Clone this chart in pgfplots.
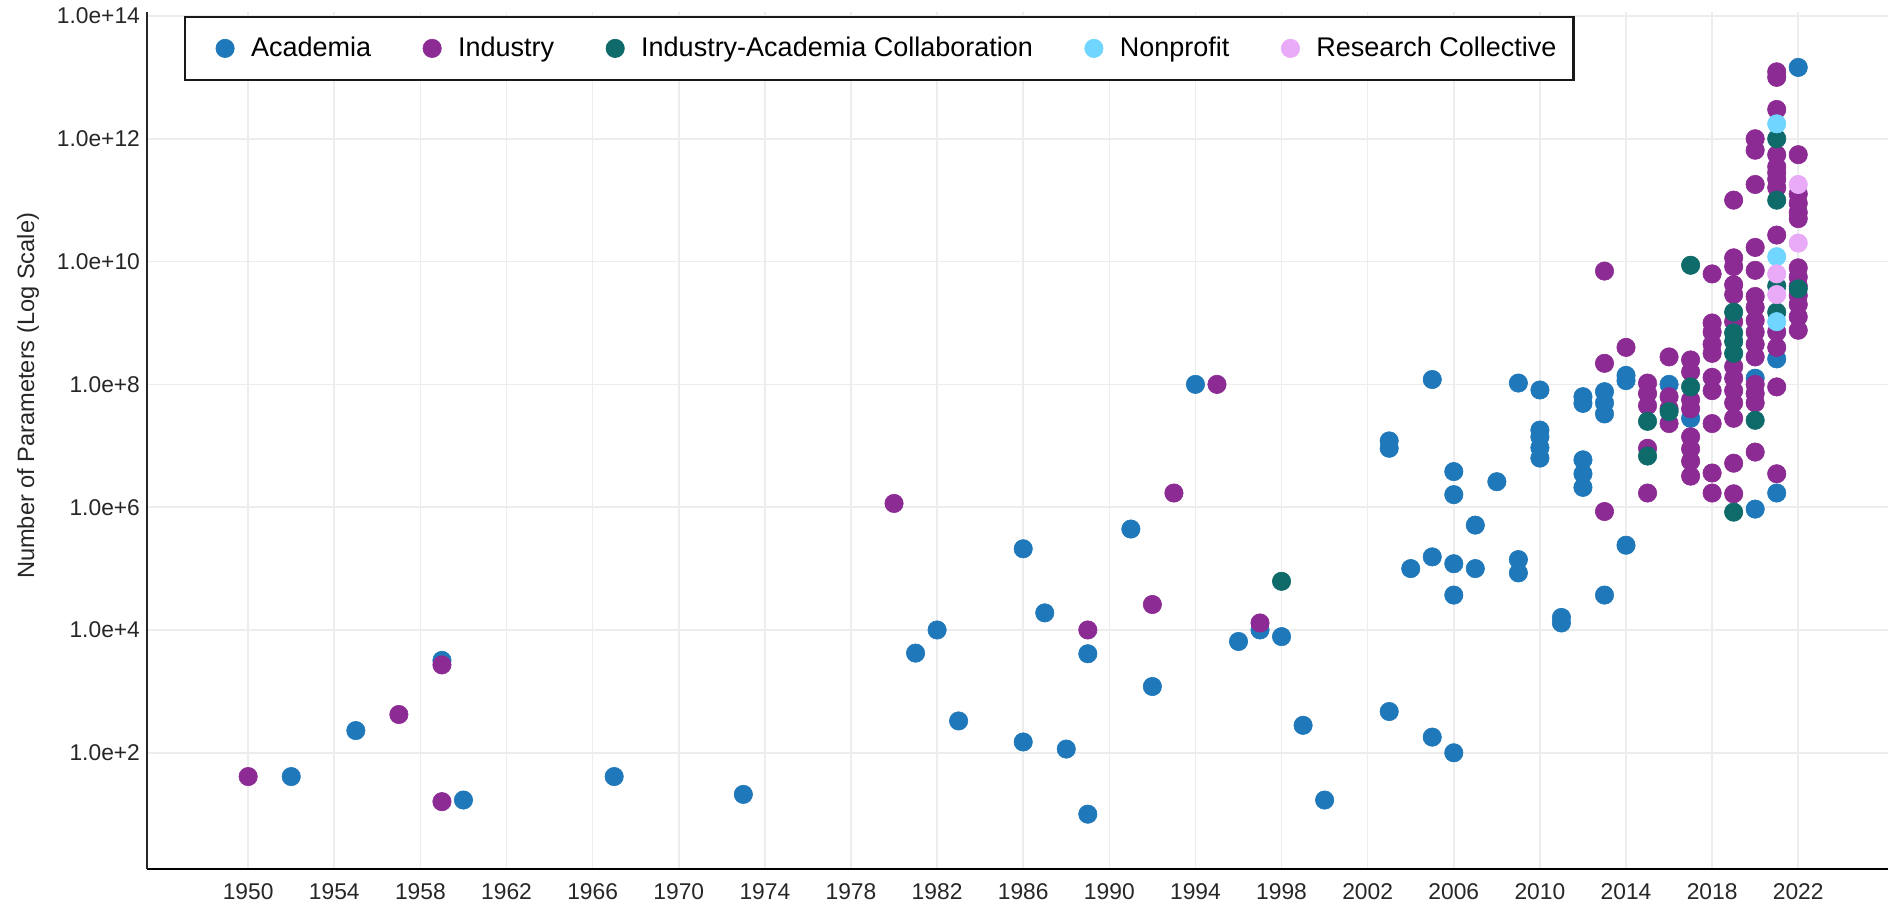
\documentclass[border=0pt]{standalone}
\usepackage{fontspec}
\setmainfont{Liberation Sans}
\usepackage{pgfplots}
\pgfplotsset{compat=1.18}
\definecolor{cAca}{HTML}{1F78B9}
\definecolor{cInd}{HTML}{8B2B93}
\definecolor{cCol}{HTML}{0F6A6A}
\definecolor{cNon}{HTML}{70D6FF}
\definecolor{cRes}{HTML}{E9AAF8}
\pgfplotsset{dot/.style={only marks, mark=*, mark size=4.6pt, color=#1, line width=0.3pt}}
\begin{document}
\begin{tikzpicture}
\begin{axis}[
  scale only axis, width=870.5pt, height=428.5pt,
  xmin=1945.3, xmax=2026.17,
  ymode=log, ymin=1.28, ymax=1.16e14,
  axis x line*=bottom, axis y line*=left,
  x axis line style={-, line width=1.4pt, black},
  y axis line style={-, line width=1.3pt, black!85},
  xtick={1950,1954,...,2022},
  xticklabels={1950,1954,1958,1962,1966,1970,1974,1978,1982,1986,1990,1994,1998,2002,2006,2010,2014,2018,2022},
  ytick={1e2,1e4,1e6,1e8,1e10,1e12,1e14},
  yticklabels={1.0e+2,1.0e+4,1.0e+6,1.0e+8,1.0e+10,1.0e+12,1.0e+14},
  minor ytick={},
  major tick length=0pt,
  tick style={draw=none},
  grid=major,
  major grid style={draw=black!7, line width=0.8pt},
  tick label style={font=\fontsize{11.4}{13}\selectfont, text=black!85},
  xticklabel style={yshift=-4pt},
  ylabel={Number of Parameters (Log Scale)},
  ylabel style={at={(axis description cs:-0.0684,0.552)}, anchor=center, font=\fontsize{11.8}{13}\selectfont, text=black!85},
  legend columns=5,
  legend style={at={(0.02125,0.9953)}, anchor=north west, draw=black!90, line width=1.1pt,
    font=\fontsize{13.5}{16}\selectfont, inner xsep=5.5pt, inner ysep=7pt,
    nodes={inner sep=3pt, line width=0.3pt},
    /tikz/every even column/.append style={column sep=13pt}},
  legend image code/.code={\path[draw=none,fill=none] (0pt,-5pt) rectangle (24.5pt,5pt); \draw[#1] plot coordinates {(14.5pt,0pt)};},
]
% Academia
\addplot[dot=cAca] coordinates {
(1952,41) (1955,230) (1959,3200) (1960,17) (1967,41) (1973,21)
(1981,4200) (1982,10000) (1983,330) (1986,2.1e5) (1986,150) (1987,1.9e4)
(1988,115) (1989,4100) (1989,10) (1991,4.4e5) (1992,1200) (1994,1e8)
(1996,6500) (1997,1e4) (1998,7800) (1999,280) (2000,17)
(2003,1.2e7) (2003,9.1e6) (2003,470) (2004,1e5)
(2005,1.2e8) (2005,1.55e5) (2005,180)
(2006,3.8e6) (2006,1.6e6) (2006,1.2e5) (2006,3.7e4) (2006,100)
(2007,5.1e5) (2007,1.0e5) (2008,2.6e6)
(2009,1.05e8) (2009,1.4e5) (2009,8.5e4)
(2010,8.1e7) (2010,1.8e7) (2010,1.4e7) (2010,9.3e6) (2010,6.3e6)
(2011,1.6e4) (2011,1.3e4)
(2012,6.3e7) (2012,4.9e7) (2012,5.9e6) (2012,3.5e6) (2012,2.1e6)
(2013,7.6e7) (2013,5.0e7) (2013,3.3e7) (2013,3.7e4)
(2014,1.4e8) (2014,1.15e8) (2014,2.4e5)
(2016,1.0e8) (2017,2.8e7)
(2020,1.26e8) (2020,9.3e5)
(2021,2.6e8) (2021,1.7e6)
(2022,1.45e13)
};
\addlegendentry{Academia}
% Industry
\addplot[dot=cInd] coordinates {
(1950,41) (1957,420) (1959,2700) (1959,16) (1980,1.15e6) (1989,1e4)
(1992,2.6e4) (1993,1.7e6) (1995,1e8) (1997,1.3e4)
(2013,7e9) (2013,2.2e8) (2013,8.5e5)
(2014,4e8)
(2015,1.05e8) (2015,7.1e7) (2015,4.5e7) (2015,9.1e6) (2015,1.7e6)
(2016,2.8e8) (2016,6.3e7) (2016,4e7) (2016,2.3e7)
(2017,2.5e8) (2017,1.6e8) (2017,5.6e7) (2017,4e7) (2017,1.4e7) (2017,8.9e6) (2017,5.6e6) (2017,3.2e6)
(2018,6.3e9) (2018,1e9) (2018,7.1e8) (2018,4.5e8) (2018,3.2e8) (2018,1.3e8) (2018,7.9e7) (2018,2.3e7) (2018,3.6e6) (2018,1.7e6)
(2019,1e11) (2019,1.15e10) (2019,8.3e9) (2019,4.2e9) (2019,2.9e9) (2019,1.05e9) (2019,1.95e8) (2019,1.26e8) (2019,7.9e7) (2019,5e7) (2019,2.8e7) (2019,5.2e6) (2019,1.65e6)
(2020,1e12) (2020,6.5e11) (2020,1.8e11) (2020,1.7e10) (2020,7.2e9) (2020,2.7e9) (2020,1.8e9) (2020,1.1e9) (2020,7.1e8) (2020,4.5e8) (2020,2.8e8) (2020,1e8) (2020,7.1e7) (2020,5e7) (2020,7.9e6)
(2021,1.23e13) (2021,1e13) (2021,3e12) (2021,5.5e11) (2021,3.5e11) (2021,2.8e11) (2021,2.2e11) (2021,1.6e11) (2021,2.7e10) (2021,7.1e8) (2021,4e8) (2021,9.1e7) (2021,3.5e6)
(2022,5.5e11) (2022,1.26e11) (2022,8.9e10) (2022,6.3e10) (2022,5e10) (2022,7.9e9) (2022,5.6e9) (2022,4e9) (2022,2.8e9) (2022,2e9) (2022,1.26e9) (2022,7.6e8)
};
\addlegendentry{Industry}
% Industry-Academia Collaboration
\addplot[dot=cCol] coordinates {
(1998,6.2e4) (2015,2.5e7) (2015,6.8e6) (2016,3.6e7)
(2017,8.7e9) (2017,9.1e7)
(2019,1.5e9) (2019,6.9e8) (2019,5e8) (2019,3.2e8) (2019,8.3e5)
(2020,2.6e7)
(2021,1e12) (2021,1e11) (2021,4e9) (2021,1.5e9)
(2022,3.6e9)
};
\addlegendentry{Industry-Academia Collaboration}
% Nonprofit
\addplot[dot=cNon] coordinates {
(2021,1.75e12) (2021,1.2e10) (2021,1.05e9)
};
\addlegendentry{Nonprofit}
% Research Collective
\addplot[dot=cRes] coordinates {
(2021,6.3e9) (2021,2.9e9) (2022,1.8e11) (2022,2e10)
};
\addlegendentry{Research Collective}
\end{axis}
\pgfresetboundingbox
\path (-73.5pt,-18.5pt) rectangle (870.5pt,434.5pt);
\end{tikzpicture}
\end{document}
